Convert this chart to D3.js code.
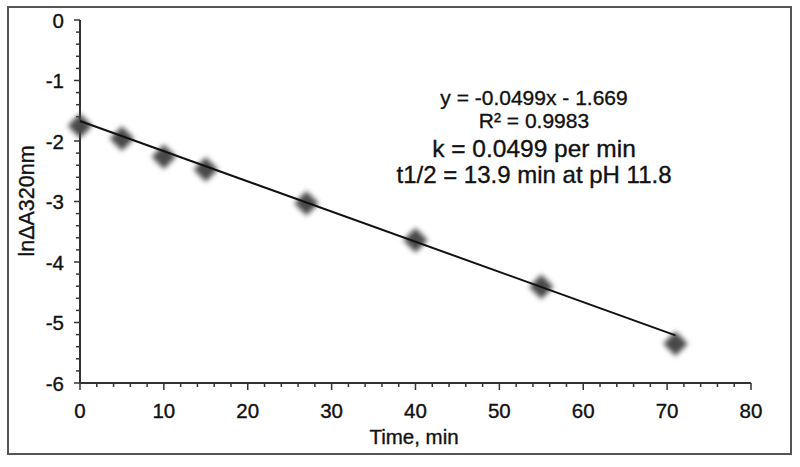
<!DOCTYPE html>
<html><head><meta charset="utf-8">
<script src="https://cdn.jsdelivr.net/npm/d3@7"></script>
<style>body{margin:0;background:#fff}svg{display:block}text{font-family:"Liberation Sans",Arial,sans-serif;fill:#111;stroke:#111;stroke-width:0.35px}</style>
</head><body>
<script>
const timeMin = [0, 5, 10, 15, 27, 40, 55, 71];
const lnDeltaA = [-1.75, -1.96, -2.26, -2.47, -3.03, -3.64, -4.41, -5.35];
const slope = -0.0499, intercept = -1.669;
const xTicks = [0,10,20,30,40,50,60,70,80];
const yTicks = [0,-1,-2,-3,-4,-5,-6];
const annotation = ["y = -0.0499x - 1.669", "R² = 0.9983", "k = 0.0499 per min", "t1/2 = 13.9 min at pH 11.8"];

const W=800,H=467;
const svg=d3.select("body").append("svg").attr("width",W).attr("height",H);
const defs=svg.append("defs");
defs.append("filter").attr("id","blur").attr("x","-50%").attr("y","-50%").attr("width","200%").attr("height","200%")
  .append("feGaussianBlur").attr("stdDeviation",2.4);

svg.append("rect").attr("x",8).attr("y",7).attr("width",783).attr("height",447)
  .attr("fill","none").attr("stroke","#555").attr("stroke-width",2);

const x=d3.scaleLinear().domain([0,80]).range([80,751]);
const y=d3.scaleLinear().domain([-6,0]).range([383,20]);

const xMinor=d3.range(0,81,2), yMinor=d3.range(-6,0.001,0.2);
const g=svg.append("g");
g.selectAll(".xm").data(xMinor).join("line").attr("x1",d=>x(d)).attr("x2",d=>x(d))
  .attr("y1",383).attr("y2",d=>d%10===0?390:387).attr("stroke","#333").attr("stroke-width",1.5);
g.selectAll(".ym").data(yMinor).join("line").attr("y1",d=>y(d)).attr("y2",d=>y(d))
  .attr("x1",80).attr("x2",d=>Math.abs(d-Math.round(d))<1e-6?74:76).attr("stroke","#333").attr("stroke-width",1.5);

g.append("line").attr("x1",80).attr("x2",80).attr("y1",y(0)).attr("y2",y(-6)).attr("stroke","#333").attr("stroke-width",2);
g.append("line").attr("x1",80).attr("x2",x(80)).attr("y1",383).attr("y2",383).attr("stroke","#333").attr("stroke-width",2);

svg.selectAll(".xl").data(xTicks).join("text").attr("x",d=>x(d)).attr("y",418)
  .attr("text-anchor","middle").attr("font-size",20.5).text(d=>d);
svg.selectAll(".yl").data(yTicks).join("text").attr("x",64).attr("y",d=>y(d)+7.5)
  .attr("text-anchor","end").attr("font-size",20.5).text(d=>d);

svg.append("text").attr("x",414).attr("y",444).attr("text-anchor","middle").attr("font-size",20.5).text("Time, min");
svg.append("text").attr("transform","translate(34,201) rotate(-90)").attr("text-anchor","middle").attr("font-size",21.5).text("lnΔA320nm");

svg.selectAll(".pt").data(timeMin).join("path")
  .attr("d",d3.symbol(d3.symbolSquare,300))
  .attr("transform",(d,i)=>`translate(${x(d)},${y(lnDeltaA[i])}) rotate(45)`)
  .attr("fill","#484848").attr("filter","url(#blur)");

svg.append("line").attr("x1",x(0)).attr("y1",y(intercept)).attr("x2",x(71)).attr("y2",y(intercept+slope*71))
  .attr("stroke","#111").attr("stroke-width",2);

const ann=[[105,21],[128,21],[157,24.5],[183,24]];
svg.selectAll(".ann").data(annotation).join("text").attr("x",534).attr("y",(d,i)=>ann[i][0])
  .attr("text-anchor","middle").attr("font-size",(d,i)=>ann[i][1]).text(d=>d);
</script>
</body></html>
